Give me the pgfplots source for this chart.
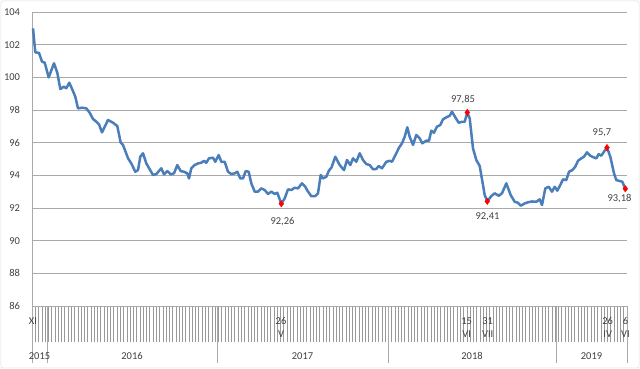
\documentclass[border=0pt]{standalone}
\usepackage{fontspec}
\setmainfont{Carlito}
\usepackage{pgfplots}
\pgfplotsset{compat=1.18}
\definecolor{lineblue}{RGB}{74,126,187}
\definecolor{txt}{RGB}{64,64,64}
\definecolor{gridc}{RGB}{170,170,170}
\begin{document}
\begin{tikzpicture}
\useasboundingbox (-32pt,-63pt) rectangle (608pt,306pt);
\begin{axis}[
  at={(0,0)}, anchor=south west,
  scale only axis, width=595pt, height=294pt,
  xmin=32, xmax=627, ymin=86, ymax=104,
  ytick={86,88,...,104},
  ymajorgrids, grid style={gridc, line width=0.8pt},
  axis x line*=bottom, axis y line*=left,
  axis line style={-, gridc, line width=0.8pt},
  tick align=outside,
  major tick length=36pt,
  ytick style={draw=none},
  xtick={32,35.269,...,627},
  xtick style={gray!80, line width=0.5pt},
  xticklabel={\relax},
  extra x ticks={32,47,217,388,556,627},
  extra x tick labels={\relax,\relax,\relax,\relax,\relax,\relax},
  extra x tick style={major tick length=57pt, xtick style={gridc, line width=0.8pt}},
  font=\fontsize{10.5}{12}\selectfont,
  yticklabel style={text=txt, font=\fontsize{10.5}{12}\selectfont, xshift=27.5pt},
  /pgf/number format/assume math mode=true,
  clip=false,
]
\addplot[lineblue, line width=2.5pt, line join=round] table {
x y
33 103.00
35.3 101.53
39 101.50
42 100.96
44.7 100.90
48.7 100.00
54 100.86
57.3 100.28
60.3 99.28
63.7 99.43
66.3 99.33
69.3 99.67
73 99.16
75.3 98.81
78 98.10
82 98.14
86.3 98.10
89.7 97.83
93 97.45
96 97.30
99 97.12
102 96.63
108 97.39
113 97.22
117.3 97.02
120.7 96.00
123 95.86
128 95.05
131.3 94.73
135.3 94.22
138 94.32
140.3 95.14
143 95.35
146.3 94.73
149.7 94.37
153 94.02
156.3 94.08
161.3 94.43
164 94.06
167.3 94.26
170.7 94.06
174 94.12
177.3 94.63
180.7 94.26
184 94.22
187.3 94.12
189 93.81
191.3 94.43
194.7 94.63
198 94.73
201.3 94.77
204 94.89
206.3 94.77
209 95.04
213 95.08
215.3 94.83
218.7 95.24
221.3 94.83
224.7 94.83
228 94.22
231.3 94.08
234.7 94.12
237.3 94.22
240.3 93.81
243 93.81
245.7 94.26
248.7 94.22
251.3 93.51
254.7 93.00
258 93.00
261.3 93.20
264.7 93.10
268 92.86
271.3 93.00
274.7 92.86
277.3 92.93
281.3 92.26
284.7 92.59
288 93.14
291.3 93.10
294.7 93.24
298 93.20
302 93.51
305.3 93.30
308 93.00
311.3 92.73
315.3 92.73
318 92.90
320.7 94.02
323 93.81
326.3 93.91
329 94.30
331.5 94.48
335.3 95.14
339.7 94.63
344 94.32
347 94.94
350.3 94.63
353 95.04
356.3 94.83
359.7 95.35
363 94.94
366.3 94.69
369.7 94.63
373 94.37
376.3 94.39
378.7 94.57
382 94.43
386.3 94.83
389.7 94.89
392 94.83
396.3 95.35
399 95.69
402 95.96
404.7 96.36
407.3 96.94
409.7 96.36
413 95.86
416.3 96.47
419.7 96.26
422.3 95.96
426.3 96.12
429 96.12
431.3 96.73
434 96.61
437 96.98
440.3 97.08
443 97.43
446.3 97.55
449.7 97.65
452 97.90
455.3 97.55
458.7 97.22
462 97.28
464.7 97.28
467.3 97.85
469.7 97.49
473 95.65
476.3 94.94
479.7 94.57
483 93.40
484.7 92.79
487.3 92.41
491.3 92.73
494.7 92.90
498.7 92.75
502 92.90
506.3 93.51
510.7 92.79
514.7 92.38
518 92.32
520.7 92.14
524.7 92.28
528 92.35
532 92.40
536.3 92.38
539.7 92.53
542 92.18
545.3 93.20
548.7 93.30
552 93.00
554.7 93.30
557.3 93.06
560.3 93.41
563 93.75
566.3 93.71
569 94.22
572.3 94.32
575.3 94.53
578 94.89
581.3 95.04
584 95.14
587 95.41
590.3 95.20
593.7 95.10
596.3 95.04
598.7 95.30
601.3 95.20
604 95.45
607 95.70
610.3 95.14
614 94.12
616.3 93.71
619.7 93.65
622.3 93.61
625.3 93.18
};
\addplot[only marks, mark=diamond*, mark size=3.2pt, red, mark options={draw=red, fill=red}] table {
x y
281.3 92.26
467.3 97.85
487.3 92.41
607 95.70
625.3 93.18
};
% data labels
\node[text=txt] at (axis cs:282.5,92.26) [yshift=-18pt] {92,26};
\node[text=txt] at (axis cs:463,97.85) [yshift=13pt] {97,85};
\node[text=txt] at (axis cs:487.5,92.41) [yshift=-15pt] {92,41};
\node[text=txt] at (axis cs:602,95.70) [yshift=14.5pt] {95,7};
\node[text=txt] at (axis cs:619.5,93.18) [yshift=-10pt] {93,18};
% category labels
\node[text=txt] at (axis cs:33,86) [yshift=-15pt] {XI};
\node[text=txt] at (axis cs:281,86) [yshift=-15pt] {26};
\node[text=txt] at (axis cs:281,86) [yshift=-28pt] {V};
\node[text=txt] at (axis cs:466.7,86) [yshift=-15pt] {15};
\node[text=txt] at (axis cs:466.7,86) [yshift=-28pt] {VI};
\node[text=txt] at (axis cs:487.7,86) [yshift=-15pt] {31};
\node[text=txt] at (axis cs:487.7,86) [yshift=-28pt] {VII};
\node[text=txt] at (axis cs:607.7,86) [yshift=-15pt] {26};
\node[text=txt] at (axis cs:607.7,86) [yshift=-28pt] {IV};
\node[text=txt] at (axis cs:625.5,86) [yshift=-15pt] {6};
\node[text=txt] at (axis cs:625.5,86) [yshift=-28pt] {VI};
% years
\node[text=txt] at (axis cs:39.5,86) [yshift=-50pt] {2015};
\node[text=txt] at (axis cs:132,86) [yshift=-50pt] {2016};
\node[text=txt] at (axis cs:302.5,86) [yshift=-50pt] {2017};
\node[text=txt] at (axis cs:472,86) [yshift=-50pt] {2018};
\node[text=txt] at (axis cs:591.5,86) [yshift=-50pt] {2019};
\end{axis}
\draw[gray!25, line width=0.5pt, rounded corners=2pt] (-31pt,-62pt) rectangle (607pt,305pt);
\end{tikzpicture}
\end{document}
